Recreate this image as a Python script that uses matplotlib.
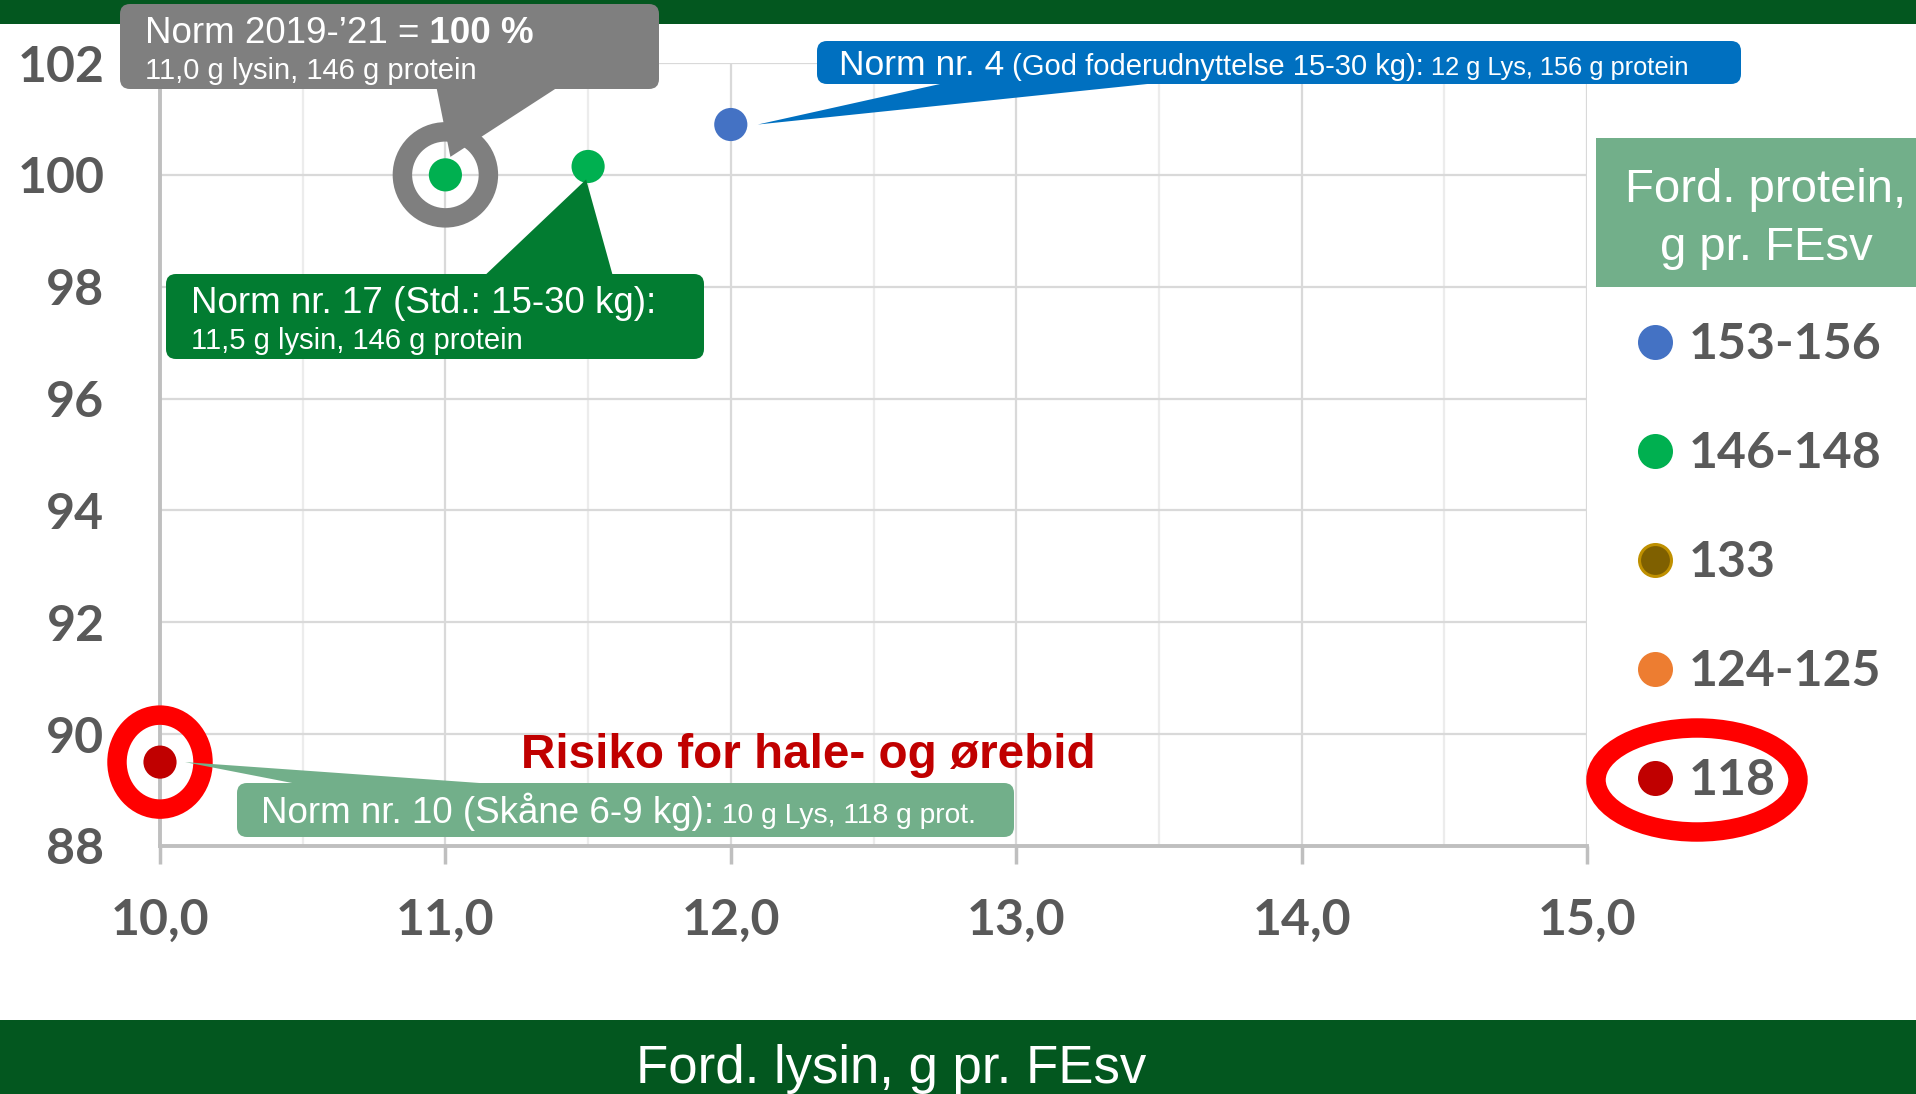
import matplotlib
matplotlib.use('Agg')
import matplotlib.pyplot as plt
from matplotlib.patches import Rectangle, FancyBboxPatch, Polygon, Ellipse

# norms: lysine (g per FEsv) vs. relative level (%)
norm_lysin = [11.0, 11.5, 12.0, 10.0]
norm_pct = [100.0, 100.15, 100.9, 89.5]
norm_color = ['#00B050', '#00B050', '#4472C4', '#C00000']

# protein groups shown in the key
group_labels = ['153-156', '146-148', '133', '124-125', '118']
group_colors = ['#4472C4', '#00B050', '#7F6000', '#ED7D31', '#C00000']
group_edges = ['#4472C4', '#00B050', '#BF9000', '#ED7D31', '#C00000']

x_ticks = [10, 11, 12, 13, 14, 15]
x_labels = ['10,0', '11,0', '12,0', '13,0', '14,0', '15,0']
y_ticks = [88, 90, 92, 94, 96, 98, 100, 102]

SANS = ['Liberation Sans', 'DejaVu Sans']
BOLDNUM = ['Lato', 'DejaVu Sans']
DARKGREEN = '#03571F'
GREY_TXT = '#595959'

W, H = 1916, 1094
fig = plt.figure(figsize=(W / 100, H / 100), dpi=100)
fig.patch.set_facecolor('white')

ax = fig.add_axes([160 / W, 1 - 846 / H, (1587 - 160) / W, (846 - 63) / H])
ax.set_xlim(10, 15)
ax.set_ylim(88, 102)
ax.set_xticks(x_ticks)
ax.set_xticklabels(x_labels)
ax.set_xticks([10.5, 11.5, 12.5, 13.5, 14.5], minor=True)
ax.set_yticks(y_ticks)
ax.set_yticklabels([str(v) for v in y_ticks])
for lab in ax.get_xticklabels() + ax.get_yticklabels():
    lab.set_family(BOLDNUM)
    lab.set_fontweight('bold')
    lab.set_fontsize(36)
    lab.set_color(GREY_TXT)
ax.tick_params(axis='x', which='major', length=13, width=2.5, color='#BFBFBF', pad=24)
ax.tick_params(axis='x', which='minor', length=0)
ax.tick_params(axis='y', length=0, pad=40)
ax.grid(which='major', color='#D9D9D9', linewidth=1.6)
ax.grid(which='minor', axis='x', color='#ECECEC', linewidth=1.6)
ax.set_axisbelow(True)
for side in ['top', 'right']:
    ax.spines[side].set_visible(False)
for side in ['left', 'bottom']:
    ax.spines[side].set_color('#BFBFBF')
    ax.spines[side].set_linewidth(2.8)

ax.scatter(norm_lysin, norm_pct, s=570, c=norm_color, linewidths=0, zorder=5, clip_on=False)

# overlay in pixel units for bands, callouts and key
ov = fig.add_axes([0, 0, 1, 1])
ov.set_xlim(0, W)
ov.set_ylim(H, 0)
ov.axis('off')
renderer = fig.canvas.get_renderer()


def to_px(x, y):
    dx, dy = ax.transData.transform((x, y))
    return dx, H - dy


def run_text(x, y, parts, color='white'):
    for s, size, weight in parts:
        t = ov.text(x, y, s, fontsize=size, fontweight=weight, color=color,
                    family=SANS, va='baseline', ha='left', zorder=6)
        x += t.get_window_extent(renderer).width


def callout(box, color, base, tip):
    x0, y0, x1, y1 = box
    ov.add_patch(FancyBboxPatch((x0, y0), x1 - x0, y1 - y0,
                                boxstyle='round,pad=0,rounding_size=10',
                                fc=color, ec='none', zorder=4))
    ov.add_patch(Polygon([base[0], base[1], tip], closed=True, fc=color, ec='none', zorder=4))


# green bands top and bottom
ov.add_patch(Rectangle((0, 0), W, 24, fc=DARKGREEN, ec='none', zorder=1))
ov.add_patch(Rectangle((0, 1020), W, H - 1020, fc=DARKGREEN, ec='none', zorder=1))
ov.text(891, 1083, 'Ford. lysin, g pr. FEsv', family=SANS, fontsize=38,
        color='white', ha='center', va='baseline', zorder=6)

# Norm 2019-'21
px, py = to_px(norm_lysin[0], norm_pct[0])
ov.add_patch(Ellipse((px, py), 86, 86, fc='none', ec='#7F7F7F', lw=14, zorder=3))
callout((120, 4, 659, 89), '#7F7F7F', [(435, 80), (569, 80)], (px + 5, py - 18))
run_text(145, 43, [('Norm 2019-’21 =', 26.5, 'normal'), (' 100 %', 26.5, 'bold')])
run_text(145, 79, [('11,0 g lysin, 146 g protein', 21, 'normal')])

# Norm nr. 17
px, py = to_px(norm_lysin[1], norm_pct[1])
callout((166, 274, 704, 359), '#027C31', [(480, 280), (614, 280)], (px - 2, py + 13))
run_text(191, 313, [('Norm nr. 17 (Std.: 15-30 kg):', 26.5, 'normal')])
run_text(191, 349, [('11,5 g lysin, 146 g protein', 21, 'normal')])

# Norm nr. 4
px, py = to_px(norm_lysin[2], norm_pct[2])
callout((817, 41, 1741, 84), '#0070C0', [(967, 78), (1205, 78)], (px + 27, py))
run_text(839, 75, [('Norm nr. 4', 25.5, 'normal'),
                   (' (God foderudnyttelse 15-30 kg):', 21, 'normal'),
                   (' 12 g Lys, 156 g protein', 18.3, 'normal')])

# Norm nr. 10
px, py = to_px(norm_lysin[3], norm_pct[3])
ov.add_patch(Ellipse((px, py), 86, 94, fc='none', ec='#FF0000', lw=14, zorder=3))
callout((237, 783, 1014, 837), '#72AF8A', [(323, 789), (564, 789)], (px + 25, py))
run_text(261, 823, [('Norm nr. 10 (Skåne 6-9 kg):', 26.5, 'normal'),
                    (' 10 g Lys, 118 g prot.', 20.3, 'normal')])

ov.text(808, 768, 'Risiko for hale- og ørebid', family=SANS, fontsize=34.3,
        fontweight='bold', color='#C00000', ha='center', va='baseline', zorder=6)

# key for protein groups
ov.add_patch(Rectangle((1596, 138), W - 1596, 287 - 138, fc='#72AF8A', ec='none', zorder=4))
ov.text(1766, 202, 'Ford. protein,', family=SANS, fontsize=34, color='white',
        ha='center', va='baseline', zorder=6)
ov.text(1766, 260, 'g pr. FEsv', family=SANS, fontsize=34, color='white',
        ha='center', va='baseline', zorder=6)

row0, step = 342, 109
for i, (lab, fc, ec) in enumerate(zip(group_labels, group_colors, group_edges)):
    ry = row0 + i * step
    ov.plot([1655], [ry], 'o', ms=23, mfc=fc, mec=ec, mew=2.2, zorder=5)
    ov.text(1689, ry + 17, lab, family=BOLDNUM, fontweight='bold', fontsize=36,
            color=GREY_TXT, ha='left', va='baseline', zorder=6)

ov.add_patch(Ellipse((1697, row0 + 4 * step + 2), 202, 104, fc='none', ec='#FF0000', lw=14, zorder=3))

fig.savefig('out.png', dpi=100)
